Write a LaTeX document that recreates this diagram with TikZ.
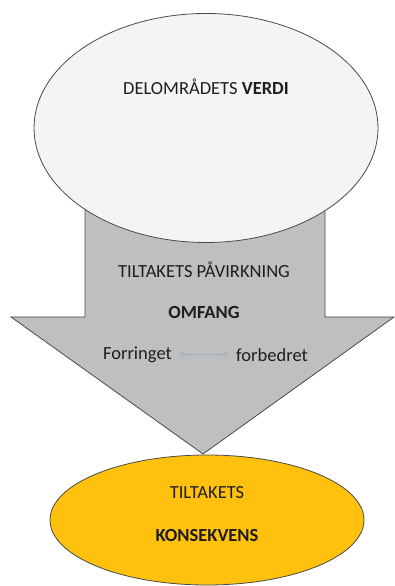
\documentclass[tikz,border=0pt]{standalone}
\usepackage{fontspec}
\setmainfont{Carlito}
\usetikzlibrary{positioning,arrows.meta,shapes.geometric}
\definecolor{lineC}{HTML}{4A4A4A}
\definecolor{topC}{HTML}{F3F4F6}
\definecolor{flowC}{HTML}{BFBFBF}
\definecolor{resC}{HTML}{FFC00E}
\definecolor{textC}{HTML}{1E1E1E}
\definecolor{scaleC}{HTML}{9DB0C8}

\begin{document}
\begin{tikzpicture}[
  x=1pt, y=1pt,
  every node/.style={font=\fontsize{18.5}{22}\selectfont, text=textC, inner sep=0pt},
  bubble/.style={
    ellipse, draw=lineC, line width=0.8pt, fill=#1,
    inner sep=0pt, outer sep=0pt,
  },
  flowshape/.style={draw=lineC, line width=0.8pt, fill=flowC, line join=miter},
  scaleflow/.style={{Straight Barb[length=4pt,width=7pt]}-{Straight Barb[length=4pt,width=7pt]}, scaleC, line width=0.7pt},
]
\useasboundingbox (0,0) rectangle (395,586);

% ── Big arrow (drawn first, sits behind the top ellipse) ──
\coordinate (shaftTL) at (85,380);
\coordinate (shaftTR) at (325,380);
\coordinate (shaftBL) at (85,269);
\coordinate (shaftBR) at (325,269);
\coordinate (headL) at (11,269);
\coordinate (headR) at (394,269);
\coordinate (tip) at (203,132);
\draw[flowshape] (shaftTL) -- (shaftBL) -- (headL) -- (tip) -- (headR)
  -- (shaftBR) -- (shaftTR) -- cycle;

% ── Top ellipse: value ──
\node[bubble=topC, minimum width=344, minimum height=229] (verdi) at (206,458) {};
\node (verdiTxt) at (206,499) {DELOMRÅDETS \textbf{VERDI}};

% ── Text inside the arrow ──
\node (paavirk) at (204,316) {TILTAKETS PÅVIRKNING};
\node (omfang) at (204,273) {\textbf{OMFANG}};
\node[anchor=east] (forr) at (172,231) {Forringet};
\node[anchor=west] (forb) at (236,231) {forbedret};
\draw[scaleflow] ([xshift=8pt,yshift=1pt]forr.east) -- ([xshift=-8pt,yshift=1pt]forb.west);

% ── Bottom ellipse: consequence ──
\node[bubble=resC, minimum width=314, minimum height=130] (kons) at (207,66) {};
\node (tiltak) at (207,93) {TILTAKETS};
\node (konsTxt) at (207,51) {\textbf{KONSEKVENS}};

\end{tikzpicture}
\end{document}
